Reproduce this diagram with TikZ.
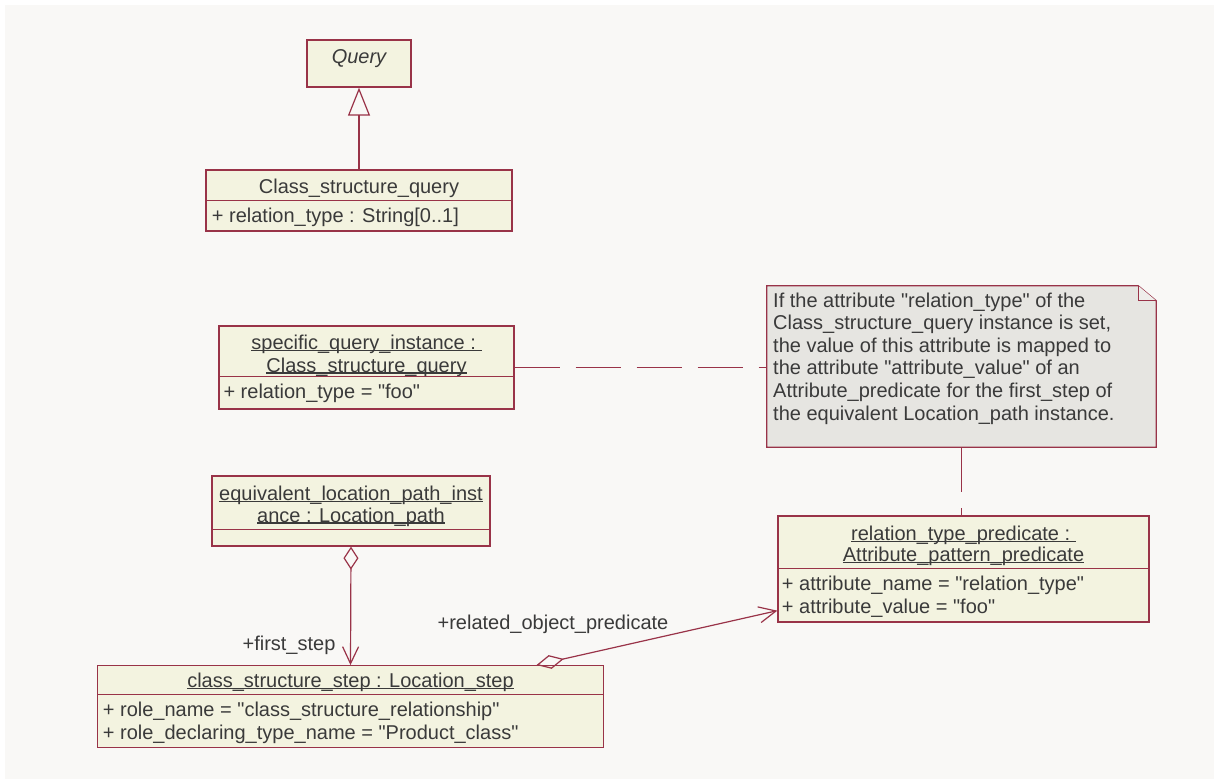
\documentclass[tikz,border=0pt]{standalone}
\usepackage{fontspec}
\setmainfont{Liberation Sans}
\usetikzlibrary{arrows.meta}
\definecolor{uml-line}{HTML}{993348}
\definecolor{uml-fill}{HTML}{F3F3E0}
\definecolor{note-fill}{HTML}{E6E5E1}
\definecolor{fold-fill}{HTML}{EFEEEB}
\definecolor{page-bg}{HTML}{F9F8F6}
\definecolor{uml-text}{HTML}{3A3A3A}
\newcommand{\objname}[1]{\setbox0\hbox{#1}\rlap{\rule[-1.5pt]{\wd0}{1.3pt}}\box0}
\newcommand{\qt}[1]{\textquotedbl#1\textquotedbl}

\begin{document}
\begin{tikzpicture}[x=1pt, y=-1pt,
    every node/.style={font=\fontsize{20}{22.6}\selectfont, text=uml-text},
    classbox/.style={draw=uml-line, line width=1.3pt, fill=uml-fill, inner sep=0pt},
    txt/.style={inner sep=0pt, text height=14pt, text depth=0pt},
    umlline/.style={draw=uml-line, line width=1.2pt}]
  \useasboundingbox (0,0) rectangle (1214,779);
  \fill[white] (0,0) rectangle (1214,779);
  \fill[page-bg] (5,5) rectangle (1214,779);

  % classes
  \node[classbox, minimum width=104pt, minimum height=47pt] (query) at (359,63.5) {};
  \node[txt] (querytitle) at (359,56.7) {\itshape Query};

  \node[classbox, minimum width=306pt, minimum height=61pt] (csq) at (359,200.5) {};
  \draw[umlline] ([yshift=-31pt]csq.north west) -- ([yshift=-31pt]csq.north east);
  \node[txt] (csqtitle) at (359,186.7) {Class\_structure\_query};
  \node[txt, anchor=west] (csqattr) at (211.7,215) {+ relation\_type : String[0..1]};

  % instances
  \node[classbox, minimum width=295pt, minimum height=83pt] (spec) at (366.5,367.5) {};
  \draw[umlline] ([yshift=-51.3pt]spec.north west) -- ([yshift=-51.3pt]spec.north east);
  \node[txt] (spectitlea) at (366.5,342.7) {\objname{specific\_query\_instance :\ }};
  \node[txt] (spectitleb) at (366.5,365) {\objname{Class\_structure\_query}};
  \node[txt, anchor=west] (specattr) at (223.3,391) {+ relation\_type = \qt{foo}};

  \node[classbox, minimum width=278pt, minimum height=70pt] (equiv) at (351,511) {};
  \draw[umlline] ([yshift=-54pt]equiv.north west) -- ([yshift=-54pt]equiv.north east);
  \node[txt] (equivtitlea) at (351,493.3) {\objname{equivalent\_location\_path\_inst}};
  \node[txt] (equivtitleb) at (351,515) {\objname{ance : Location\_path}};

  \node[classbox, minimum width=505.6pt, minimum height=82pt] (step) at (350.5,706.7) {};
  \draw[umlline] ([yshift=-29.3pt]step.north west) -- ([yshift=-29.3pt]step.north east);
  \node[txt] (steptitle) at (350.5,680.7) {\objname{class\_structure\_step : Location\_step}};
  \node[txt, anchor=west] (stepattra) at (102.7,709) {+ role\_name = \qt{class\_structure\_relationship}};
  \node[txt, anchor=west] (stepattrb) at (102.7,732) {+ role\_declaring\_type\_name = \qt{Product\_class}};

  \node[classbox, minimum width=371pt, minimum height=106pt] (pred) at (963.5,569) {};
  \draw[umlline] ([yshift=-53.3pt]pred.north west) -- ([yshift=-53.3pt]pred.north east);
  \node[txt] (predtitlea) at (963.5,533.3) {\objname{relation\_type\_predicate :\ }};
  \node[txt] (predtitleb) at (963.5,554.3) {\objname{Attribute\_pattern\_predicate}};
  \node[txt, anchor=west] (predattra) at (781.7,583.3) {+ attribute\_name = \qt{relation\_type}};
  \node[txt, anchor=west] (predattrb) at (781.7,606) {+ attribute\_value = \qt{foo}};

  % note
  \node[minimum width=389pt, minimum height=161pt, inner sep=0pt] (note) at (961.5,366.5) {};
  \draw[umlline, line width=1.3pt, fill=note-fill] (note.north west) -- ([xshift=-18pt]note.north east)
    -- ([yshift=-15pt]note.north east) -- (note.south east) -- (note.south west) -- cycle;
  \draw[umlline, line width=1.3pt, fill=fold-fill] ([xshift=-18pt]note.north east)
    -- ([xshift=-18pt, yshift=-15pt]note.north east) -- ([yshift=-15pt]note.north east);
  \node[anchor=north west, inner sep=0pt, align=left] (notetext) at (773,292.5)
    {If the attribute \qt{relation\_type} of the\\
     Class\_structure\_query instance is set,\\
     the value of this attribute is mapped to\\
     the attribute \qt{attribute\_value} of an\\
     Attribute\_predicate for the first\_step of\\
     the equivalent Location\_path instance.};

  % connectors
  \draw[umlline, -{Triangle[open, length=28pt, width=22pt]}] (csq.north) -- (query.south);
  \draw[umlline, {Diamond[open, length=23pt, width=15pt]}-{Straight Barb[length=17pt, width=16pt]}]
    (equiv.south) -- (step.north);
  \draw[umlline, {Diamond[open, length=28pt, width=14pt]}-{Straight Barb[length=17pt, width=16pt]}]
    ([xshift=186pt]step.north) -- ([yshift=12pt]pred.south west);
  \draw[umlline, dash pattern=on 45pt off 16pt] (spec.east) -- (note.west |- spec.east);
  \draw[umlline, dash pattern=on 45pt off 16pt] (note.south) -- (note.south |- pred.north);

  \node[txt] (firststep) at (289,643) {+first\_step};
  \node[txt] (relobj) at (553,622.7) {+related\_object\_predicate};
\end{tikzpicture}
\end{document}
